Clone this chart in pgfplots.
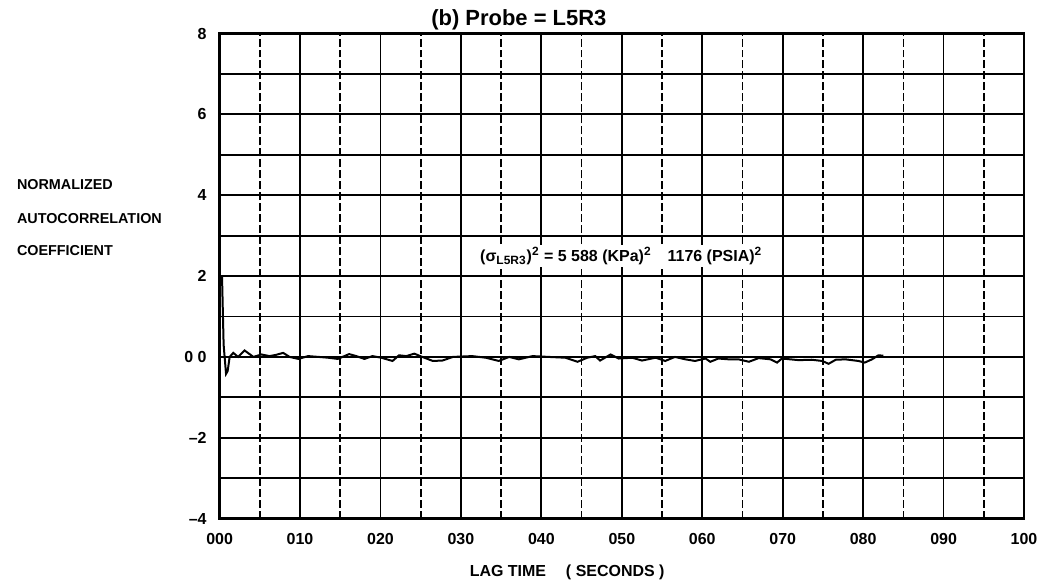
\documentclass[border=0pt]{standalone}
\usepackage{pgfplots}
\pgfplotsset{compat=1.18}
\usepackage{fontspec}
\setmainfont{Liberation Sans}

\begin{document}
\begin{tikzpicture}
\begin{axis}[
    scale only axis,
    width=403pt, height=243pt,
    xmin=0, xmax=100, ymin=-4, ymax=8,
    clip=false,
    xtick={0,10,...,100},
    xticklabels={000,010,020,030,040,050,060,070,080,090,100},
    ytick={-4,-2,...,8},
    yticklabels={--4,--2,0 0,2,4,6,8},
    minor ytick={-3,-1,...,7},
    grid=both,
    major grid style={black, line width=0.9pt},
    minor grid style={black, line width=0.9pt},
    extra x ticks={5,15,...,95},
    extra x tick labels={},
    extra x tick style={grid=major, major grid style={black, line width=0.8pt, dash pattern=on 4pt off 1.5pt}},
    major tick length=0pt, minor tick length=0pt,
    axis line style={black, line width=1.2pt},
    ticklabel style={font=\bfseries\fontsize{8}{9}\selectfont},
    xticklabel style={yshift=-4pt},
    yticklabel style={xshift=-3pt},
]
\addplot[black, line width=1pt] coordinates {
    (0.3,2.0) (0.5,0.3) (0.8,-0.42) (1.0,-0.35) (1.25,0) (1.7,0.10) (2.3,0.0)
    (3.1,0.16) (4.2,0.0) (5.2,0.06) (6.2,0.02) (7.0,0.05) (7.9,0.1) (8.7,0)
    (9.8,-0.05) (11,0.02) (12.3,0) (13.5,-0.02) (14.7,-0.05) (16.1,0.07)
    (17,0.02) (18,-0.05) (19,0.02) (20.1,-0.02) (21.5,-0.1) (22.3,0.04)
    (23.2,0.02) (24.2,0.08) (25.2,0) (26.5,-0.1) (27.7,-0.09) (29,0)
    (30.2,0.01) (31.4,0.02) (33.1,-0.02) (34.7,-0.1) (36,0) (37.2,-0.06)
    (38.9,0.02) (40.9,0) (43,-0.02) (44.5,-0.12) (45.7,-0.02) (46.7,0.02)
    (47.3,-0.09) (48.6,0.06) (49.6,-0.04) (51.3,-0.02) (52.5,-0.09)
    (54.2,-0.02) (55.4,-0.1) (56.6,0) (57.9,-0.06) (59.1,-0.1) (60.4,-0.04)
    (61,-0.12) (62,-0.04) (63.3,-0.06) (64.5,-0.06) (65.8,-0.12) (67,-0.03)
    (68.5,-0.06) (69.3,-0.14) (69.9,-0.04) (72,-0.08) (73.6,-0.07)
    (74.9,-0.1) (75.7,-0.17) (76.6,-0.07) (77.8,-0.06) (79.4,-0.1)
    (80.2,-0.14) (81.1,-0.06) (81.9,0.04) (82.5,0.03)
};
% title and labels
\node[font=\bfseries\fontsize{11}{13}\selectfont] at (axis cs:37.2,8.33) {(b) Probe = L5R3};
\node[font=\bfseries\fontsize{8}{9}\selectfont] at (axis cs:43.2,-5.32) {LAG TIME\hspace{10pt}( SECONDS )};
\node[anchor=west, font=\bfseries\fontsize{7.2}{8}\selectfont] at (axis cs:-27.3,4.26) [xshift=5pt] {NORMALIZED};
\node[anchor=west, font=\bfseries\fontsize{7.2}{8}\selectfont] at (axis cs:-27.3,3.42) [xshift=5pt] {AUTOCORRELATION};
\node[anchor=west, font=\bfseries\fontsize{7.2}{8}\selectfont] at (axis cs:-27.3,2.62) [xshift=5pt] {COEFFICIENT};
\node[anchor=west, fill=white, inner sep=1pt, font=\bfseries\fontsize{8}{9}\selectfont] at (axis cs:32.1,2.5)
    {(σ\textsubscript{L5R3})\textsuperscript{2} = 5 588 (KPa)\textsuperscript{2}\hspace{8pt}1176 (PSIA)\textsuperscript{2}};
% page extent
\path (axis cs:-27.3,8.83) (axis cs:102.2,-5.59);
\end{axis}
\end{tikzpicture}
\end{document}
